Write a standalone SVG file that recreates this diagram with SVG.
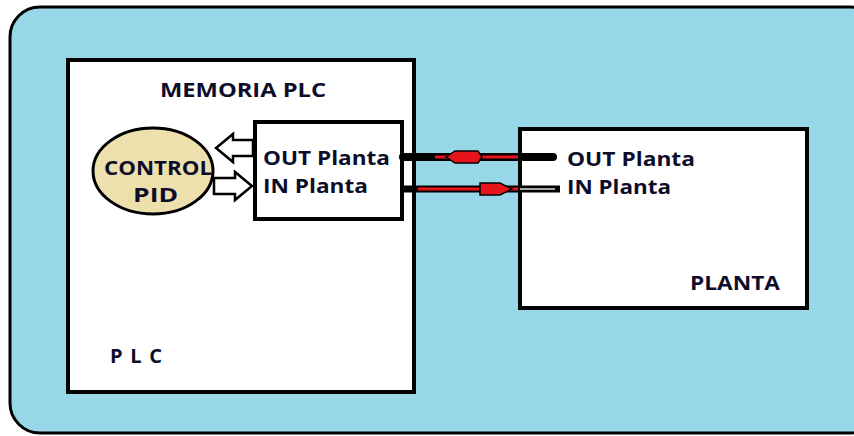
<svg xmlns="http://www.w3.org/2000/svg" width="854" height="436" viewBox="0 0 854 436">
<defs>
<style>
.t{font-family:"Open Sans","Liberation Sans",sans-serif;font-weight:bold;fill:#0d0d2a;font-size:20px}
.box{fill:#fff;stroke:#000;stroke-width:4}
.hollow{fill:#fff;stroke:#000;stroke-width:2.5;stroke-linejoin:miter}
</style>
</defs>
<rect width="854" height="436" fill="#fff"/>
<g id="outer"><rect x="10" y="7" width="870" height="426" rx="30" fill="#98d7e8" stroke="#000" stroke-width="3"/></g>
<g id="plc"><rect class="box" x="68" y="60" width="346" height="332"/>
<text class="t" x="160" y="97" textLength="166" lengthAdjust="spacingAndGlyphs">MEMORIA PLC</text>
<text class="t" x="110" y="363" textLength="52" lengthAdjust="spacing">PLC</text></g>
<g id="io"><rect class="box" x="255" y="122" width="147" height="97"/>
<text class="t" x="263" y="165" textLength="127" lengthAdjust="spacingAndGlyphs">OUT Planta</text>
<text class="t" x="263" y="193" textLength="105" lengthAdjust="spacingAndGlyphs">IN Planta</text></g>
<g id="pid"><ellipse cx="153" cy="171" rx="60" ry="43" fill="#ede0ad" stroke="#000" stroke-width="3"/>
<text class="t" x="104" y="175" textLength="108" lengthAdjust="spacingAndGlyphs">CONTROL</text>
<text class="t" x="133" y="202" textLength="45" lengthAdjust="spacingAndGlyphs">PID</text></g>
<g id="planta"><rect class="box" x="520" y="129" width="287" height="179"/>
<text class="t" x="567" y="166" textLength="128" lengthAdjust="spacingAndGlyphs">OUT Planta</text>
<text class="t" x="567" y="194" textLength="104" lengthAdjust="spacingAndGlyphs">IN Planta</text>
<text class="t" x="690" y="290" textLength="90" lengthAdjust="spacingAndGlyphs">PLANTA</text></g>
<g id="connectors">
<polygon class="hollow" points="253,140 233,140 233,134 216,148 233,162 233,156 253,156"/>
<polygon class="hollow" points="214,178 235,178 235,172 252,186 235,200 235,194 214,194"/>
<line x1="403" y1="157" x2="553" y2="157" stroke="#000" stroke-width="8" stroke-linecap="round"/>
<line x1="435" y1="157" x2="518" y2="157" stroke="#e8141c" stroke-width="3"/>
<polygon points="446,157 455,151 478,151 482,157 478,163 455,163" fill="#e8141c" stroke="#000" stroke-width="1.5"/>
<line x1="403" y1="189" x2="560" y2="189" stroke="#000" stroke-width="7"/>
<line x1="520" y1="189" x2="555" y2="189" stroke="#ddd" stroke-width="1.5"/>
<line x1="418" y1="189" x2="518" y2="189" stroke="#e8141c" stroke-width="3"/>
<polygon points="480,183 500,183 512,189 500,195 480,195" fill="#e8141c" stroke="#000" stroke-width="1.5"/>
</g>
</svg>
